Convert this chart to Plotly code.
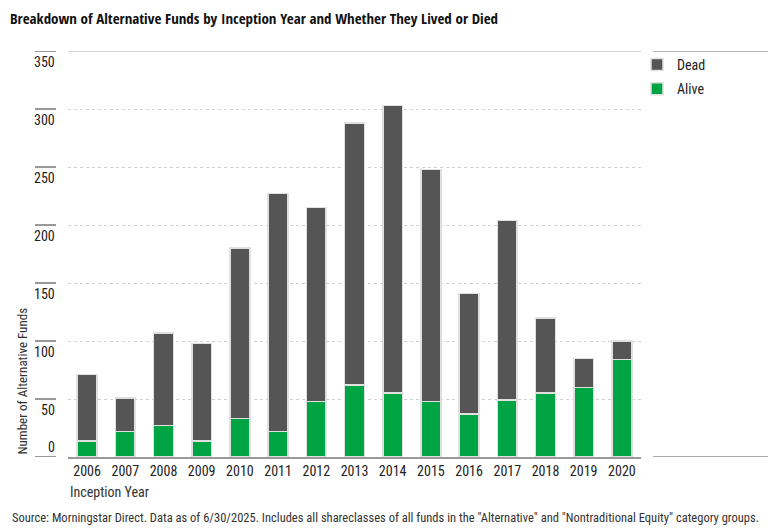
import plotly.graph_objects as go

years = ["2006", "2007", "2008", "2009", "2010", "2011", "2012", "2013",
         "2014", "2015", "2016", "2017", "2018", "2019", "2020"]
alive = [14, 22, 27, 14, 33, 22, 48, 62, 55, 48, 37, 49, 55, 60, 84]
dead = [57, 29, 80, 84, 147, 205, 167, 226, 248, 200, 104, 155, 65, 25, 16]
y_ticks = [0, 50, 100, 150, 200, 250, 300, 350]

FONT = "Roboto Condensed, DejaVu Sans Condensed, sans-serif"
TFONT = "Open Sans Condensed, Roboto Condensed, sans-serif"
DARK = "#555555"
GREEN = "#00a443"

# page body has an 8px margin, so the figure is drawn 8px smaller
OFF = 8
W, H = 776 - OFF, 530 - OFF
L, T = 68 - OFF, 51 - OFF
R = W - (641 - OFF)
B = H - (457 - OFF)
pw = 641 - 68

def px2paper(px):
    return (px - 68) / pw

fig = go.Figure()
fig.add_trace(go.Bar(x=years, y=alive, name="Alive", marker_color=GREEN, legendgroup="alive",
                     legendrank=2, marker_line=dict(color="#e0e0e0", width=1.5), width=0.52))
fig.add_trace(go.Bar(x=years, y=dead, name="Dead", marker_color=DARK, legendgroup="dead",
                     legendrank=1, marker_line=dict(color="#e0e0e0", width=1.5), width=0.52))

shapes = []
annotations = []
for v in y_ticks:
    shapes.append(dict(type="line", xref="paper", yref="y", x0=px2paper(35), x1=px2paper(56),
                       y0=v, y1=v, line=dict(color="#333333", width=1)))
    annotations.append(dict(xref="paper", yref="y", x=px2paper(57), y=v, text=str(v),
                            showarrow=False, xanchor="right",
                            yanchor="bottom" if v == 0 else "top",
                            yshift=0 if v == 0 else -1,
                            font=dict(family=FONT, size=14, color="#222222")))
shapes.append(dict(type="line", xref="paper", yref="y", x0=0, x1=1, y0=350, y1=350,
                   line=dict(color="#aaaaaa", width=1)))
shapes.append(dict(type="line", xref="paper", yref="y", x0=px2paper(653), x1=px2paper(776),
                   y0=350, y1=350, line=dict(color="#777777", width=1)))
shapes.append(dict(type="line", xref="paper", yref="y", x0=px2paper(653), x1=px2paper(776),
                   y0=0, y1=0, line=dict(color="#555555", width=1)))

annotations.append(dict(xref="paper", yref="y", x=px2paper(22), y=0, text="Number of Alternative Funds",
                        textangle=-90, showarrow=False, xanchor="center", yanchor="bottom",
                        font=dict(family=FONT, size=13, color="#333333")))
annotations.append(dict(xref="paper", yref="paper", x=0, y=-(482 - 457) / 406, text="Inception Year",
                        showarrow=False, xanchor="left", yanchor="top",
                        font=dict(family=FONT, size=14, color="#333333")))
annotations.append(dict(xref="paper", yref="paper", x=px2paper(10), y=-(508 - 457) / 406,
                        text='Source: Morningstar Direct. Data as of 6/30/2025. Includes all shareclasses of all funds in the "Alternative" and "Nontraditional Equity" category groups.',
                        showarrow=False, xanchor="left", yanchor="top",
                        font=dict(family=FONT, size=12.5, color="#333333")))

fig.update_layout(
    width=W, height=H,
    margin=dict(l=L, r=R, t=T, b=B, autoexpand=False),
    barmode="stack",
    plot_bgcolor="white", paper_bgcolor="white",
    title=dict(text="<b>Breakdown of Alternative Funds by Inception Year and Whether They Lived or Died</b>",
               x=(10 - OFF) / W, xanchor="left", y=1 - (19 - OFF) / H, yanchor="middle",
               font=dict(family=TFONT, size=15, color="#111111")),
    xaxis=dict(showline=True, linecolor="#999999", linewidth=2, ticks="",
               tickfont=dict(family=FONT, size=14, color="#222222"), fixedrange=True),
    yaxis=dict(range=[0, 350], tickvals=y_ticks[1:-1], showticklabels=False,
               gridcolor="#d0d0d0", griddash="dot", gridwidth=1, zeroline=False),
    legend=dict(x=px2paper(637), y=1 + 2 / 406, xanchor="left", yanchor="top",
                traceorder="grouped", tracegroupgap=3,
                font=dict(family=FONT, size=14, color="#222222"),
                bgcolor="rgba(0,0,0,0)", itemwidth=30),
    shapes=shapes,
    annotations=annotations,
    showlegend=True,
)

fig.write_html("out.html")
